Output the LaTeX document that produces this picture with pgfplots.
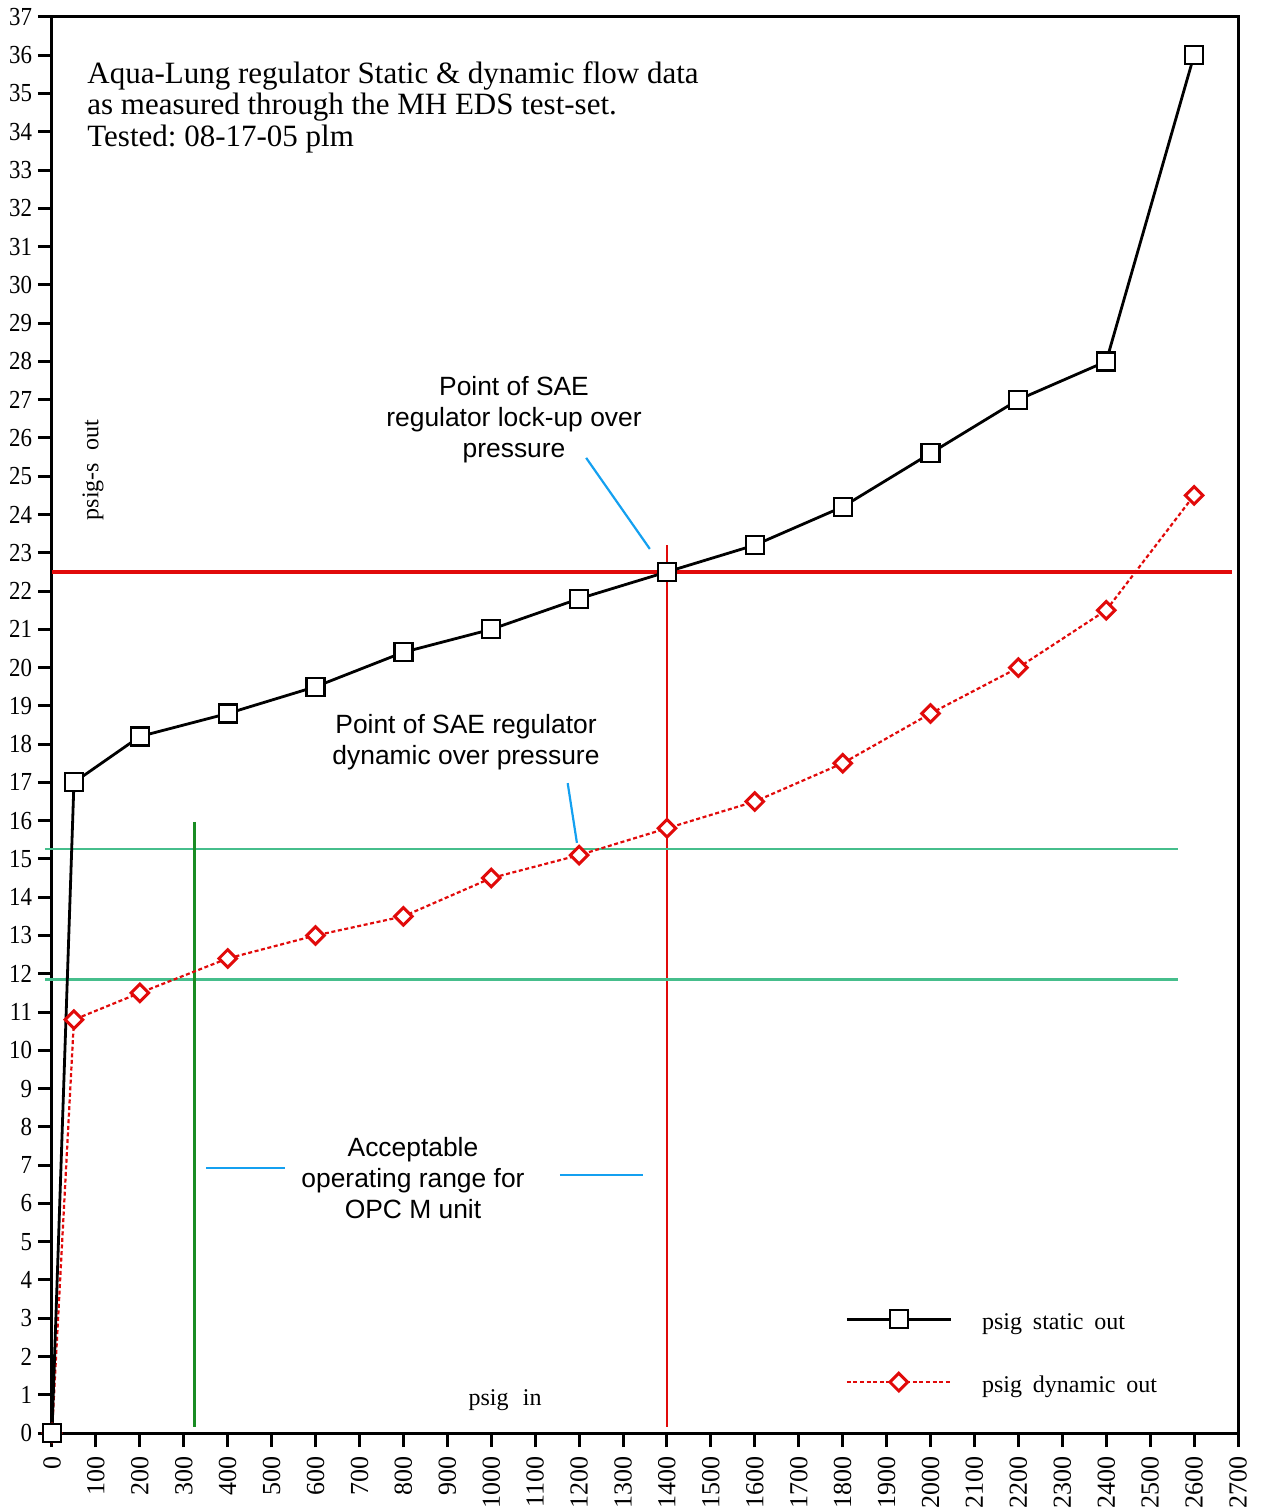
\documentclass[border=0pt]{standalone}
\usepackage{pgfplots}
\pgfplotsset{compat=1.18}
\usepackage{fontspec}
\setmainfont{Liberation Serif}
\newfontfamily\arial{Liberation Sans}
\definecolor{myred}{RGB}{225,10,10}
\definecolor{lgreen}{RGB}{70,190,140}
\definecolor{dgreen}{RGB}{25,140,35}
\definecolor{myblue}{RGB}{20,160,240}
\frenchspacing
\begin{document}
\begin{tikzpicture}
\useasboundingbox (-26pt,-37.5pt) rectangle (608pt,716.5pt);
\begin{axis}[
  at={(0pt,0pt)}, anchor=south west,
  scale only axis, width=593pt, height=708pt,
  xmin=0, xmax=2700, ymin=0, ymax=37,
  xtick distance=100, ytick distance=1,
  tick pos=left, tick align=outside,
  major tick length=7pt,
  axis line style={line width=1.5pt},
  tick style={line width=1.5pt, black},
  xticklabel style={rotate=90, anchor=east, inner sep=4.5pt, font=\fontsize{13}{13}\selectfont},
  yticklabel style={inner sep=3.2pt, xscale=0.88, font=\fontsize{13}{13}\selectfont},
  /pgf/number format/assume math mode=true,
  /pgf/number format/1000 sep={},
  clip=false,
  xlabel={psig\hspace{0.6em}in},
  xlabel style={at={(axis description cs:0.382,0.0233)}, anchor=center, font=\fontsize{12}{13}\selectfont},
  ylabel={psig-s\hspace{0.5em}out},
  ylabel style={at={(axis description cs:0.0346,0.680)}, anchor=center, rotate=0, font=\fontsize{12}{13}\selectfont},
  reverse legend,
  legend cell align=left,
  legend style={draw=none, fill=none, at={(0.6686,0.0869)}, anchor=north west,
    inner sep=0pt, row sep=20pt, column sep=15pt,
    nodes={inner sep=0pt, text height=8pt, text depth=2pt, yshift=-2pt},
    font=\fontsize{12}{13}\selectfont},
  legend image code/.code={\draw[mark repeat=2,mark phase=2,#1] plot coordinates {(0pt,0pt)(26pt,0pt)(52pt,0pt)};},
]
% reference lines
\addplot[forget plot, myred, line width=1.8pt] coordinates {(0,22.5) (2686,22.5)};
\addplot[forget plot, myred, line width=1.2pt] coordinates {(1400,23.2) (1400,0.15)};
\addplot[forget plot, lgreen, line width=1.1pt] coordinates {(-16,15.25) (2563,15.25)};
\addplot[forget plot, lgreen, line width=1.1pt] coordinates {(-16,11.85) (2563,11.85)};
\addplot[forget plot, dgreen, line width=1.3pt] coordinates {(325,15.97) (325,0.15)};
\addplot[forget plot, myblue, line width=1.1pt] coordinates {(1216,25.48) (1361,23.1)};
\addplot[forget plot, myblue, line width=1.1pt] coordinates {(1174,16.98) (1195,15.42)};
\addplot[forget plot, myblue, line width=1.1pt] coordinates {(351,6.92) (530,6.92)};
\addplot[forget plot, myblue, line width=1.1pt] coordinates {(1156,6.74) (1345,6.74)};
% dynamic
\addplot[myred, line width=1.1pt, dash pattern=on 2pt off 1.3pt, mark=square*, mark size=3.1pt,
  mark options={rotate=45, solid, fill=white, line width=1.5pt}] coordinates {
  (0,0) (50,10.8) (200,11.5) (400,12.4) (600,13) (800,13.5) (1000,14.5) (1200,15.1)
  (1400,15.8) (1600,16.5) (1800,17.5) (2000,18.8) (2200,20) (2400,21.5) (2600,24.5)};
\addlegendentry{psig\hspace{0.45em}dynamic\hspace{0.45em}out}
% static
\addplot[black, line width=1.4pt, mark=square*, mark size=4.5pt,
  mark options={solid, fill=white, line width=1.1pt}] coordinates {
  (0,0) (50,17) (200,18.2) (400,18.8) (600,19.5) (800,20.4) (1000,21) (1200,21.8)
  (1400,22.5) (1600,23.2) (1800,24.2) (2000,25.6) (2200,27) (2400,28) (2600,36)};
\addlegendentry{psig\hspace{0.45em}static\hspace{0.45em}out}
% texts
\node[anchor=north west, align=left, inner sep=0pt, font=\fontsize{15.5}{15.85}\selectfont]
  at (axis cs:79.7,35.85) {Aqua-Lung regulator Static \& dynamic flow data\\as measured through the MH EDS test-set.\\Tested: 08-17-05 plm};
\node[align=center, inner sep=0pt, font=\arial\fontsize{13.2}{15.5}\selectfont]
  at (axis cs:1051.8,26.47) {Point of SAE\\regulator lock-up over\\pressure};
\node[align=center, inner sep=0pt, font=\arial\fontsize{13.2}{15.5}\selectfont]
  at (axis cs:942.5,18.04) {Point of SAE regulator\\dynamic over pressure};
\node[align=center, inner sep=0pt, font=\arial\fontsize{13.2}{15.5}\selectfont]
  at (axis cs:821.8,6.66) {Acceptable\\operating range for\\OPC M unit};
\end{axis}
\end{tikzpicture}
\end{document}
